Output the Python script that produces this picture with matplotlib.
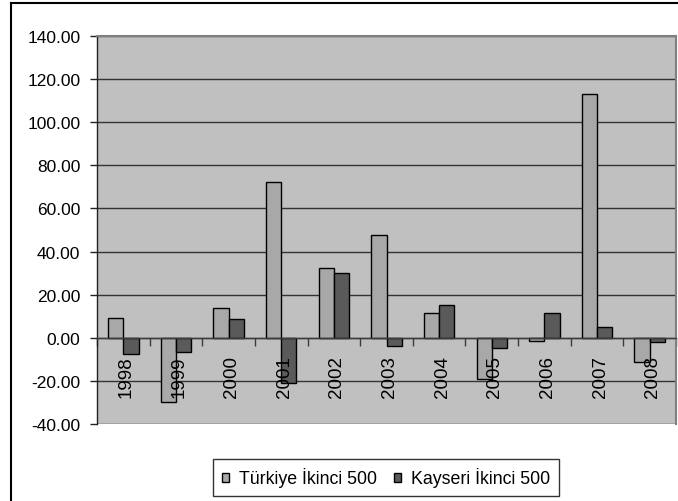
import matplotlib
matplotlib.use("Agg")
import matplotlib.pyplot as plt
import numpy as np
from matplotlib.lines import Line2D
from matplotlib.patches import Patch
from matplotlib.transforms import ScaledTranslation

years = ["1998", "1999", "2000", "2001", "2002", "2003", "2004", "2005", "2006", "2007", "2008"]
turkiye = [9.4, -30.0, 13.8, 72.5, 32.3, 47.5, 11.6, -18.9, -1.5, 113.2, -11.1]
kayseri = [-7.5, -6.8, 8.6, -20.8, 30.0, -3.7, 15.4, -4.6, 11.6, 5.1, -1.8]
yticks = [-40, -20, 0, 20, 40, 60, 80, 100, 120, 140]
series_names = ["Türkiye İkinci 500", "Kayseri İkinci 500"]

plt.rcParams['font.family'] = ['Liberation Sans', 'DejaVu Sans']

W, H = 678, 502
DPI = 100
fig = plt.figure(figsize=(W / DPI, H / DPI), dpi=DPI)
L, R, T, B = 97, 676, 37, 425
ax = fig.add_axes([L / W, (H - B) / H, (R - L) / W, (B - T) / H])
ax.set_facecolor("#C0C0C0")

x = np.arange(len(years))
w = 0.29
c1, c2 = "#A8A8A8", "#5A5A5A"
ax.bar(x - w / 2, turkiye, width=w, color=c1, edgecolor="black", linewidth=1.0, zorder=3)
ax.bar(x + w / 2, kayseri, width=w, color=c2, edgecolor="black", linewidth=1.0, zorder=3)

# spines first (set_position resets tick settings)
ax.spines["bottom"].set_position(("data", 0))
ax.spines["bottom"].set_color("#3C3C3C")
ax.spines["bottom"].set_linewidth(1.0)
ax.spines["bottom"].set_zorder(4)
ax.spines["left"].set_color("#222222")
ax.spines["left"].set_linewidth(1.0)
for s in ["top", "right"]:
    ax.spines[s].set_color("#808080")
    ax.spines[s].set_linewidth(1.5)

ax.set_xlim(-0.5, len(years) - 0.5)
ax.set_ylim(-40, 140)
ax.set_yticks(yticks)
ax.set_yticklabels([f"{v:.2f}" for v in yticks], fontsize=12.5)
ax.yaxis.grid(True, color="#333333", linewidth=1.0)
ax.set_axisbelow(True)
ax.tick_params(axis="y", length=5, width=1, direction="out", pad=7, color="#222222")

ax.set_xticks([])
ax.set_xticks(np.arange(len(years) + 1) - 0.5, minor=True)
ax.tick_params(axis="x", which="minor", length=6, width=1, color="#3C3C3C", direction="out")

# category labels, rotated, just below the zero line, drawn over bars
off = ScaledTranslation(3 / DPI, -17.5 / DPI, fig.dpi_scale_trans)
for xi, lab in zip(x, years):
    ax.text(xi, 0, lab, rotation=90, fontsize=13.5, ha="center", va="top",
            transform=ax.transData + off, zorder=6)

# outer chart frame (left and top edges)
fig.add_artist(Line2D([11 / W, 11 / W], [0, (H - 3.5) / H], transform=fig.transFigure, color="black", linewidth=1.5))
fig.add_artist(Line2D([11 / W, 1.0], [(H - 3.5) / H, (H - 3.5) / H], transform=fig.transFigure, color="black", linewidth=1.5))

handles = [Patch(facecolor=c1, edgecolor="black", linewidth=1.0),
           Patch(facecolor=c2, edgecolor="black", linewidth=1.0)]
leg = fig.legend(handles, series_names, loc="center", bbox_to_anchor=(386 / W, 1 - 478.5 / H),
                 ncol=2, fontsize=12.8, frameon=True, fancybox=False, edgecolor="black",
                 handlelength=0.42, handleheight=0.42, handletextpad=0.55, columnspacing=0.95,
                 borderpad=0.5, borderaxespad=0)
leg.get_frame().set_linewidth(1.0)

fig.savefig("out.png", dpi=DPI)
